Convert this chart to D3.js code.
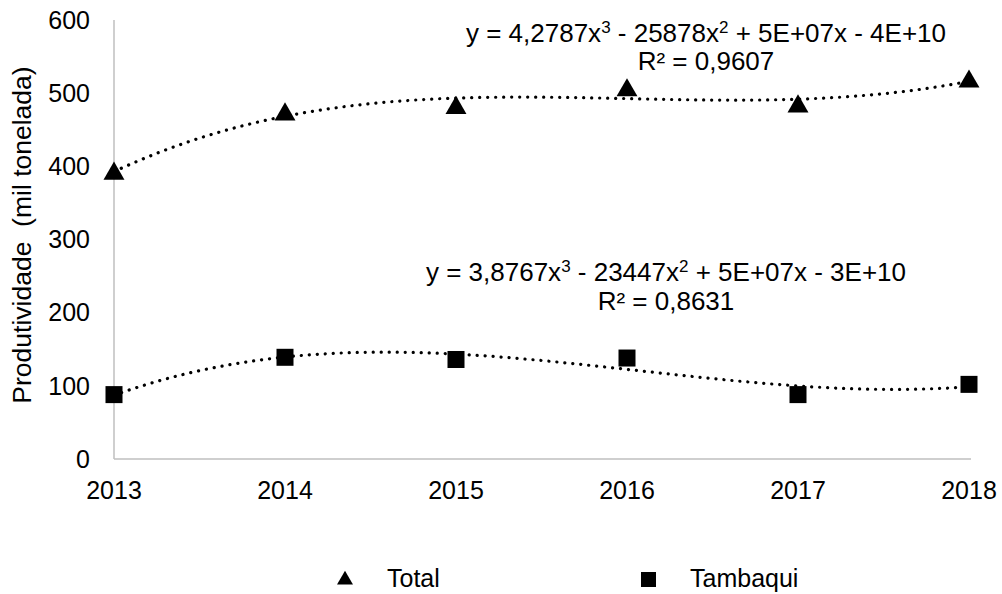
<!DOCTYPE html>
<html>
<head>
<meta charset="utf-8">
<script src="https://cdn.jsdelivr.net/npm/d3@7"></script>
<style>
  body { margin: 0; background: #fff; }
  text { font-family: "Liberation Sans", Arial, sans-serif; fill: #000; }
</style>
</head>
<body>
<svg id="chart" width="1002" height="594"></svg>
<script>
// data
const years = [2013, 2014, 2015, 2016, 2017, 2018];
const totalValues = [392, 473, 482, 506, 484, 518];
const tambaquiValues = [88, 139, 136, 138, 88, 102];
const yTicks = [0, 100, 200, 300, 400, 500, 600];
// equation pieces: [text, superscript?]
const totalEquation = [["y = 4,2787x", 0], ["3", 1], [" - 25878x", 0], ["2", 1], [" + 5E+07x - 4E+10", 0]];
const totalR2 = "R² = 0,9607";
const tambaquiEquation = [["y = 3,8767x", 0], ["3", 1], [" - 23447x", 0], ["2", 1], [" + 5E+07x - 3E+10", 0]];
const tambaquiR2 = "R² = 0,8631";
const seriesNames = ["Total", "Tambaqui"];

const svg = d3.select("#chart");
const fontSize = 25;

// scales
const x = d3.scaleLinear().domain([2013, 2018]).range([114, 969]);
const y = d3.scaleLinear().domain([0, 600]).range([459, 20]);

// axis lines (no ticks)
svg.append("line").attr("x1", x(2013)).attr("x2", x(2013)).attr("y1", y(600)).attr("y2", y(0))
    .attr("stroke", "#bfbfbf").attr("stroke-width", 1.5);
svg.append("line").attr("x1", x(2013)).attr("x2", 971).attr("y1", y(0)).attr("y2", y(0))
    .attr("stroke", "#bfbfbf").attr("stroke-width", 1.5);

// y tick labels
svg.append("g").selectAll("text").data(yTicks).enter().append("text")
    .attr("x", 90).attr("y", d => y(d)).attr("dy", "0.35em")
    .attr("text-anchor", "end").attr("font-size", fontSize)
    .text(d => d);

// x tick labels
svg.append("g").selectAll("text").data(years).enter().append("text")
    .attr("x", d => x(d)).attr("y", 499)
    .attr("text-anchor", "middle").attr("font-size", fontSize)
    .text(d => d);

// y axis title
svg.append("text")
    .attr("transform", `translate(31,235) rotate(-90)`)
    .attr("text-anchor", "middle").attr("font-size", 26.5)
    .attr("xml:space", "preserve")
    .text("Produtividade  (mil tonelada)");

// cubic least squares fit on t = year - 2013
function polyFit(xs, ys, deg) {
    const n = deg + 1;
    let A = [];
    for (let i = 0; i < n; i++) {
        A.push([]);
        for (let j = 0; j <= n; j++) A[i].push(0);
    }
    xs.forEach((xv, k) => {
        for (let i = 0; i < n; i++) {
            for (let j = 0; j < n; j++) A[i][j] += Math.pow(xv, i + j);
            A[i][n] += ys[k] * Math.pow(xv, i);
        }
    });
    for (let i = 0; i < n; i++) {
        let p = i;
        for (let r = i + 1; r < n; r++) if (Math.abs(A[r][i]) > Math.abs(A[p][i])) p = r;
        [A[i], A[p]] = [A[p], A[i]];
        for (let r = 0; r < n; r++) {
            if (r === i) continue;
            const f = A[r][i] / A[i][i];
            for (let c = i; c <= n; c++) A[r][c] -= f * A[i][c];
        }
    }
    return A.map((row, i) => row[n] / row[i]);
}

function trendPoints(values) {
    const ts = years.map(d => d - 2013);
    const c = polyFit(ts, values, 3);
    const pts = [];
    for (let t = 0; t <= 5.0001; t += 0.05) {
        pts.push([2013 + t, c[0] + c[1] * t + c[2] * t * t + c[3] * t * t * t]);
    }
    return pts;
}

const line = d3.line().x(d => x(d[0])).y(d => y(d[1]));

// markers
const triangle = d3.symbol().type(d3.symbolTriangle).size(190);
svg.append("g").selectAll("path").data(totalValues).enter().append("path")
    .attr("d", triangle)
    .attr("transform", (d, i) => `translate(${x(years[i])},${y(d) + 1.5})`)
    .attr("fill", "#000");

svg.append("g").selectAll("rect").data(tambaquiValues).enter().append("rect")
    .attr("x", (d, i) => x(years[i]) - 8.5).attr("y", d => y(d) - 8.5)
    .attr("width", 17).attr("height", 17).attr("fill", "#000");

// trendlines
[totalValues, tambaquiValues].forEach(vals => {
    svg.append("path").datum(trendPoints(vals)).attr("d", line)
        .attr("fill", "none").attr("stroke", "#000").attr("stroke-width", 3.2)
        .attr("stroke-linecap", "round").attr("stroke-dasharray", "0.1,7.9");
});

// equation labels
function equation(parts, r2, cx, y1, y2) {
    const t = svg.append("text").attr("x", cx).attr("y", y1).attr("text-anchor", "middle")
        .attr("font-size", 26).attr("xml:space", "preserve");
    parts.forEach(p => {
        const s = t.append("tspan").text(p[0]);
        if (p[1]) s.attr("font-size", 17).attr("dy", -9);
        else s.attr("dy", t.node().childNodes.length > 1 ? 9 : 0);
    });
    svg.append("text").attr("x", cx).attr("y", y2).attr("text-anchor", "middle")
        .attr("font-size", 26).text(r2);
}
equation(totalEquation, totalR2, 706, 42, 70);
equation(tambaquiEquation, tambaquiR2, 666, 281, 310);

// legend
const legend = svg.append("g");
legend.append("path").attr("d", d3.symbol().type(d3.symbolTriangle).size(110))
    .attr("transform", "translate(345,580)").attr("fill", "#000");
legend.append("text").attr("x", 387).attr("y", 587).attr("font-size", 25).text(seriesNames[0]);
legend.append("rect").attr("x", 641).attr("y", 572).attr("width", 15).attr("height", 15).attr("fill", "#000");
legend.append("text").attr("x", 690).attr("y", 587).attr("font-size", 25).text(seriesNames[1]);
</script>
</body>
</html>
